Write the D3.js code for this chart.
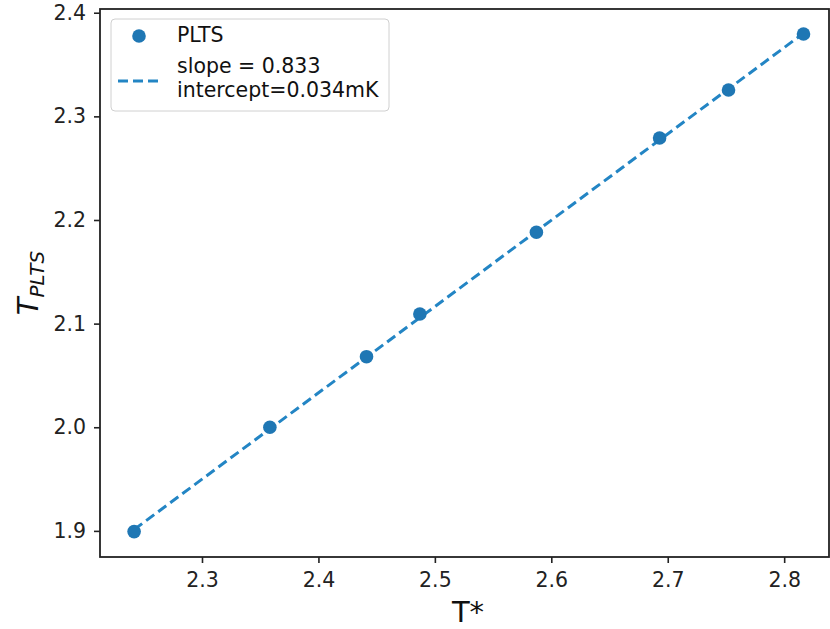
<!DOCTYPE html>
<html><head><meta charset="utf-8">
<script src="https://cdn.jsdelivr.net/npm/d3@7"></script>
<style>
html,body{margin:0;padding:0;background:#fff;}
svg{display:block;font-family:"DejaVu Sans",sans-serif;}
</style></head>
<body><svg id="c" width="830" height="629"></svg>
<script>
const tStar = [2.2417, 2.3583, 2.4413, 2.4871, 2.5872, 2.6930, 2.7522, 2.8166];
const tPLTS = [1.8993, 2.0000, 2.0681, 2.1093, 2.1882, 2.2791, 2.3254, 2.3795];
const fitX = [2.2417, 2.8166];
const fitY = [1.9013, 2.3802];
const xTicks = [2.3, 2.4, 2.5, 2.6, 2.7, 2.8];
const yTicks = [1.9, 2.0, 2.1, 2.2, 2.3, 2.4];
const legendLabels = ["PLTS", "slope = 0.833", "intercept=0.034mK"];

const svg = d3.select("#c");
const L = 100, R = 829, T = 9, B = 557;
const x = d3.scaleLinear().domain([2.2124, 2.8385]).range([L, R]);
const y = d3.scaleLinear().domain([1.8748, 2.4036]).range([B, T]);
const blue = "#1f77b4";

// fit line
svg.append("path")
  .attr("d", d3.line().x(d => x(d[0])).y(d => y(d[1]))(fitX.map((v,i)=>[v, fitY[i]])))
  .attr("fill","none").attr("stroke","#2385c4").attr("stroke-width",3)
  .attr("stroke-dasharray","10,5");

// points
svg.selectAll("circle.pt").data(tStar).enter().append("circle")
  .attr("class","pt").attr("cx", d => x(d)).attr("cy", (d,i) => y(tPLTS[i]))
  .attr("r", 6.8).attr("fill", blue);

// axes
const xa = svg.append("g").attr("transform",`translate(0,${B})`)
  .call(d3.axisBottom(x).tickValues(xTicks).tickFormat(d3.format(".1f")).tickSize(6).tickPadding(6));
const ya = svg.append("g").attr("transform",`translate(${L},0)`)
  .call(d3.axisLeft(y).tickValues(yTicks).tickFormat(d3.format(".1f")).tickSize(6).tickPadding(8));
[xa, ya].forEach(a => {
  a.select(".domain").remove();
  a.selectAll(".tick line").attr("stroke","#222").attr("stroke-width",1.6);
  a.selectAll(".tick text").attr("fill","#222").attr("font-size",20.5).attr("font-family","DejaVu Sans");
});
xa.selectAll(".tick text").attr("dy","0.9em");

// frame
svg.append("rect").attr("x",L).attr("y",T).attr("width",R-L).attr("height",B-T)
  .attr("fill","none").attr("stroke","#222").attr("stroke-width",1.8);

// axis labels
svg.append("text").attr("x",468).attr("y",622).attr("text-anchor","middle")
  .attr("font-size",29).attr("fill","#111").text("T*");
const yl = svg.append("text").attr("transform",`translate(38,${(T+B)/2}) rotate(-90)`)
  .attr("text-anchor","middle").attr("fill","#111");
yl.append("tspan").attr("font-size",29).attr("font-style","italic").text("T");
yl.append("tspan").attr("font-size",20).attr("font-style","italic").attr("dy",6).text("PLTS");

// legend
const lg = svg.append("g");
lg.append("rect").attr("x",111).attr("y",19).attr("width",278).attr("height",92).attr("rx",4)
  .attr("fill","#fff").attr("fill-opacity",0.8).attr("stroke","#d0d0d0").attr("stroke-width",1);
lg.append("circle").attr("cx",139).attr("cy",36).attr("r",6.8).attr("fill",blue);
lg.append("line").attr("x1",118).attr("x2",160).attr("y1",81).attr("y2",81)
  .attr("stroke","#2385c4").attr("stroke-width",3).attr("stroke-dasharray","10,5");
lg.append("text").attr("x",177).attr("y",42).attr("font-size",20.5).attr("fill","#111").text(legendLabels[0]);
lg.append("text").attr("x",177).attr("y",73).attr("font-size",20.5).attr("fill","#111").text(legendLabels[1]);
lg.append("text").attr("x",177).attr("y",97).attr("font-size",20.5).attr("fill","#111").text(legendLabels[2]);
</script></body></html>
